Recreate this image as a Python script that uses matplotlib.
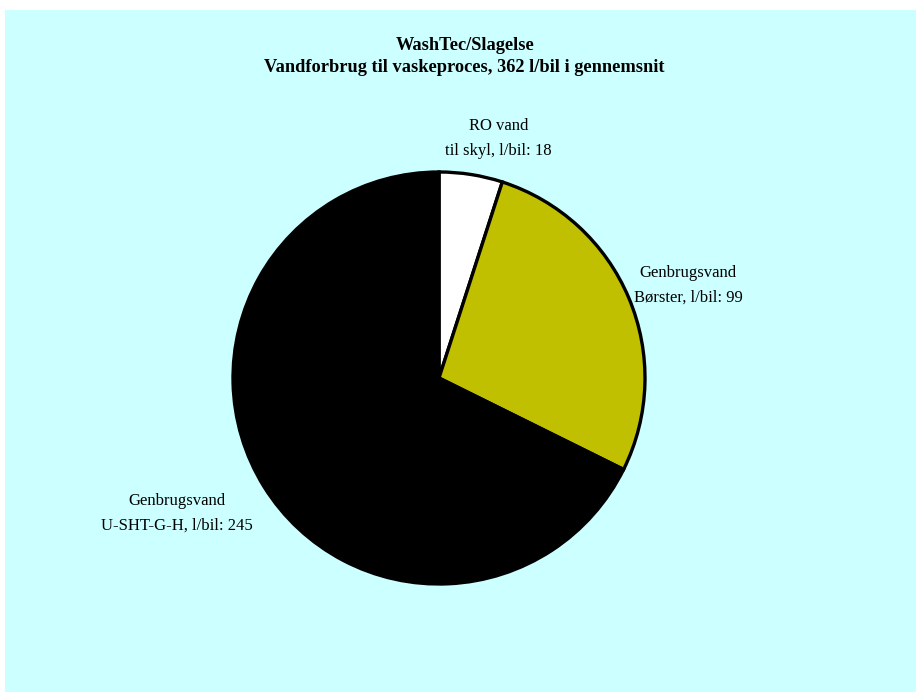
import numpy as np
import matplotlib.pyplot as plt
from matplotlib.patches import Rectangle

# Data
labels = ["RO vand\ntil skyl, l/bil: 18",
          "Genbrugsvand\nBørster, l/bil: 99",
          "Genbrugsvand\nU-SHT-G-H, l/bil: 245"]
values = [18, 99, 245]
colors = ["#FFFFFF", "#C0C000", "#000000"]
label_dist = [1.2, 1.29, 1.43]
label_shift = [-5, -2.5, -4.5]  # small angle tweaks in degrees

plt.rcParams["font.family"] = ["Liberation Serif", "DejaVu Serif"]

W, H = 916, 693
fig = plt.figure(figsize=(W / 100, H / 100), dpi=100, facecolor="white")

# light cyan chart area
fig.patches.append(Rectangle((5 / W, 1 / H), 1 - 5 / W, (683 - 1) / H,
                             transform=fig.transFigure, facecolor="#CCFFFF",
                             edgecolor="none", zorder=-1))

ax = fig.add_axes([0, 0, 1, 1], zorder=1)
ax.patch.set_alpha(0)

cx, cy, r = 439, H - 378, 206
wedges, _ = ax.pie(values, colors=colors, startangle=90, counterclock=False,
                   center=(cx, cy), radius=r, frame=True,
                   wedgeprops=dict(edgecolor="black", linewidth=2.4))
ax.set_xlim(0, W)
ax.set_ylim(0, H)
ax.set_aspect("equal")
ax.axis("off")

for w, lab, d, s in zip(wedges, labels, label_dist, label_shift):
    ang = np.deg2rad((w.theta1 + w.theta2) / 2 + s)
    ax.text(cx + r * d * np.cos(ang), cy + r * d * np.sin(ang), lab,
            ha="center", va="center", fontsize=12, linespacing=1.75)

fig.text(465 / W, 1 - 45 / H, "WashTec/Slagelse", ha="center", va="center",
         fontsize=13.2, fontweight="bold")
fig.text(464 / W, 1 - 68 / H, "Vandforbrug til vaskeproces, 362 l/bil i gennemsnit",
         ha="center", va="center", fontsize=13.2, fontweight="bold")

fig.savefig("out.png", dpi=100, facecolor="white")
